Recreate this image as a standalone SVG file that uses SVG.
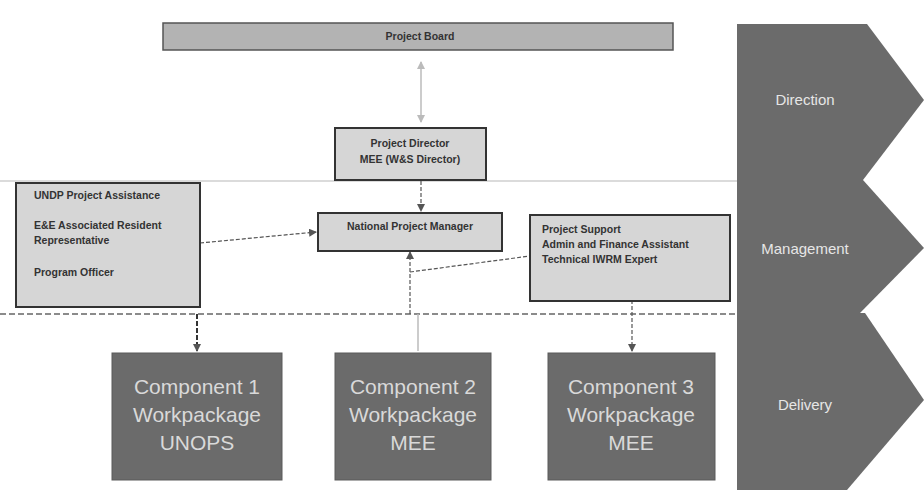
<svg xmlns="http://www.w3.org/2000/svg" width="924" height="502" viewBox="0 0 924 502">
<style>
.lbl{font-family:"Liberation Sans",Arial,sans-serif;font-weight:bold;font-size:10.5px;fill:#333}
.comp{fill:#6b6b6b;stroke:#5a5a5a;stroke-width:1}
.ctxt{font-family:"Liberation Sans",Arial,sans-serif;font-size:21px;fill:#d9d9d9;text-anchor:middle}
.band{fill:#6b6b6b}
.btxt{font-family:"Liberation Sans",Arial,sans-serif;font-size:15px;fill:#e6e6e6;text-anchor:middle}
.box{fill:#d6d6d6;stroke:#333;stroke-width:2}
.conn{stroke:#555;stroke-width:1.2;fill:none;stroke-dasharray:4 2}
.light{stroke:#bbb;stroke-width:1.5;fill:none}
</style>
<defs>
<marker id="ah" markerWidth="8" markerHeight="8" refX="7" refY="4" orient="auto-start-reverse" markerUnits="userSpaceOnUse">
<path d="M0,0 L8,4 L0,8 z" fill="#555"/>
</marker>
<marker id="ahl" markerWidth="8" markerHeight="8" refX="7" refY="4" orient="auto-start-reverse" markerUnits="userSpaceOnUse">
<path d="M0,0 L8,4 L0,8 z" fill="#bbb"/>
</marker>
</defs>
<rect width="924" height="502" fill="#ffffff"/>

<g id="bands">
<g id="direction"><polygon class="band" points="737,24 867,24 924,100 863,180 737,180"/><text class="btxt" x="805" y="105">Direction</text></g>
<g id="management"><polygon class="band" points="737,180 863,180 924,248 860,313 737,313"/><text class="btxt" x="805" y="254">Management</text></g>
<g id="delivery"><polygon class="band" points="737,313 865,313 924,400 847,490 737,490"/><text class="btxt" x="805" y="410">Delivery</text></g>
</g>

<g id="connectors">
<line x1="0" y1="181" x2="737" y2="181" stroke="#cfcfcf" stroke-width="1.5"/>
<line x1="0" y1="314" x2="737" y2="314" stroke="#666" stroke-width="1.5" stroke-dasharray="6 3"/>
<line class="light" x1="421" y1="62" x2="421" y2="122" marker-start="url(#ahl)" marker-end="url(#ahl)"/>
<line class="conn" x1="421" y1="181" x2="421" y2="211" marker-end="url(#ah)"/>
<line class="conn" x1="200" y1="243" x2="316" y2="232" marker-end="url(#ah)"/>
<line class="conn" x1="410" y1="314" x2="410" y2="252" marker-end="url(#ah)"/>
<line class="conn" x1="410" y1="272" x2="530" y2="256"/>
<line x1="197" y1="314" x2="197" y2="351" stroke="#333" stroke-width="2" stroke-dasharray="5 2" marker-end="url(#ah)"/>
<line class="light" x1="418" y1="314" x2="418" y2="351"/>
<line class="conn" x1="632" y1="300" x2="632" y2="351" marker-end="url(#ah)"/>
</g>

<g id="project-board">
<rect x="163" y="23" width="510" height="27" fill="#b3b3b3" stroke="#555" stroke-width="1.5"/>
<text class="lbl" x="420" y="40" text-anchor="middle" font-size="9px">Project Board</text>
</g>

<g id="project-director">
<rect class="box" x="335" y="128" width="151" height="52"/>
<text class="lbl" x="410" y="147" text-anchor="middle">Project Director</text>
<text class="lbl" x="410" y="163" text-anchor="middle">MEE (W&amp;S Director)</text>
</g>

<g id="national-project-manager">
<rect class="box" x="318" y="213" width="184" height="38"/>
<text class="lbl" x="410" y="230" text-anchor="middle">National Project Manager</text>
</g>

<g id="undp-project-assistance">
<rect class="box" x="16" y="183" width="184" height="124"/>
<text class="lbl" x="34" y="199">UNDP Project Assistance</text>
<text class="lbl" x="34" y="229">E&amp;E Associated Resident</text>
<text class="lbl" x="34" y="244">Representative</text>
<text class="lbl" x="34" y="276">Program Officer</text>
</g>

<g id="project-support">
<rect class="box" x="530" y="215" width="200" height="86"/>
<text class="lbl" x="542" y="233">Project Support</text>
<text class="lbl" x="542" y="248">Admin and Finance Assistant</text>
<text class="lbl" x="542" y="263">Technical IWRM Expert</text>
</g>

<g id="component-1">
<rect class="comp" x="112" y="353" width="170" height="127"/>
<text class="ctxt" x="197" y="394">Component 1</text>
<text class="ctxt" x="197" y="422">Workpackage</text>
<text class="ctxt" x="197" y="450">UNOPS</text>
</g>
<g id="component-2">
<rect class="comp" x="335" y="353" width="156" height="127"/>
<text class="ctxt" x="413" y="394">Component 2</text>
<text class="ctxt" x="413" y="422">Workpackage</text>
<text class="ctxt" x="413" y="450">MEE</text>
</g>
<g id="component-3">
<rect class="comp" x="548" y="353" width="167" height="127"/>
<text class="ctxt" x="631" y="394">Component 3</text>
<text class="ctxt" x="631" y="422">Workpackage</text>
<text class="ctxt" x="631" y="450">MEE</text>
</g>
</svg>
